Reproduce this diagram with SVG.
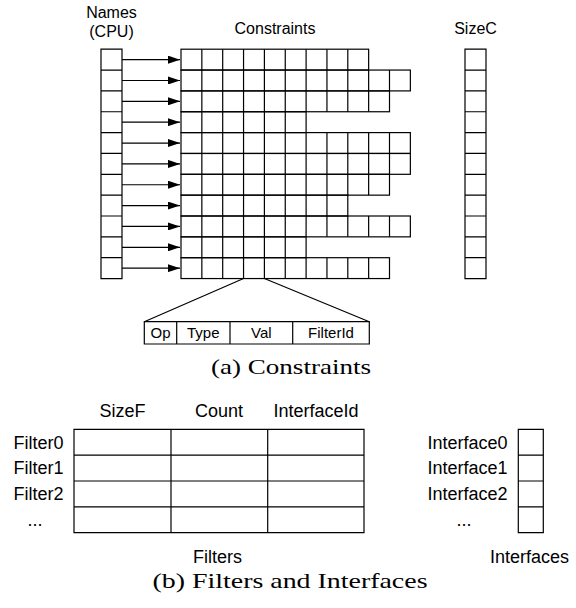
<svg xmlns="http://www.w3.org/2000/svg" xmlns:xlink="http://www.w3.org/1999/xlink" width="576" height="608" viewBox="0 0 576 608">
<style>
.s{fill:none;stroke:#000;stroke-width:1.2}
.t{font-family:"Liberation Sans",Arial,Helvetica,sans-serif;fill:#000}
.t16{font-size:16px}
.t15{font-size:15px}
.t18{font-size:18px}
.m{text-anchor:middle}
.e{text-anchor:end}
.cap{font-family:"Liberation Serif","Times New Roman",serif;font-size:21px;fill:#000;text-anchor:middle}
</style>
<defs>
<marker id="ah" markerUnits="userSpaceOnUse" markerWidth="12" markerHeight="8" refX="12" refY="4" orient="auto">
<path d="M0 0L12 4L0 8z" fill="#000"/>
</marker>
<path id="v5" d="M20.85 0v20.85m20.85-20.85v20.85m20.85-20.85v20.85m20.85-20.85v20.85m20.85-20.85v20.85"/>
<path id="v7" d="M20.85 0v20.85m20.85-20.85v20.85m20.85-20.85v20.85m20.85-20.85v20.85m20.85-20.85v20.85m20.85-20.85v20.85m20.85-20.85v20.85"/>
<path id="v8" d="M20.85 0v20.85m20.85-20.85v20.85m20.85-20.85v20.85m20.85-20.85v20.85m20.85-20.85v20.85m20.85-20.85v20.85m20.85-20.85v20.85m20.85-20.85v20.85"/>
<path id="v9" d="M20.85 0v20.85m20.85-20.85v20.85m20.85-20.85v20.85m20.85-20.85v20.85m20.85-20.85v20.85m20.85-20.85v20.85m20.85-20.85v20.85m20.85-20.85v20.85m20.85-20.85v20.85"/>
<path id="v10" d="M20.85 0v20.85m20.85-20.85v20.85m20.85-20.85v20.85m20.85-20.85v20.85m20.85-20.85v20.85m20.85-20.85v20.85m20.85-20.85v20.85m20.85-20.85v20.85m20.85-20.85v20.85m20.85-20.85v20.85"/>
<g id="r6"><rect width="125.1" height="20.85"/><use xlink:href="#v5"/></g>
<g id="r8"><rect width="166.8" height="20.85"/><use xlink:href="#v7"/></g>
<g id="r9"><rect width="187.65" height="20.85"/><use xlink:href="#v8"/></g>
<g id="r10"><rect width="208.5" height="20.85"/><use xlink:href="#v9"/></g>
<g id="r11"><rect width="229.35" height="20.85"/><use xlink:href="#v10"/></g>
<path id="col" d="M0 0h21v229.35h-21zM0 20.85h21M0 41.7h21M0 62.55h21M0 83.4h21M0 104.25h21M0 125.1h21M0 145.95h21M0 166.8h21M0 187.65h21M0 208.5h21"/>
</defs>

<g id="names">
<use xlink:href="#col" class="s" x="101" y="49.2"/>
<text class="t t16 m" x="111.5" y="18">Names</text>
<text class="t t16 m" x="111.5" y="37">(CPU)</text>
</g>

<g id="constraints" class="s">
<use xlink:href="#r9" x="181" y="49.2"/>
<use xlink:href="#r11" x="181" y="70.05"/>
<use xlink:href="#r10" x="181" y="90.9"/>
<use xlink:href="#r6" x="181" y="111.75"/>
<use xlink:href="#r11" x="181" y="132.6"/>
<use xlink:href="#r11" x="181" y="153.45"/>
<use xlink:href="#r10" x="181" y="174.3"/>
<use xlink:href="#r8" x="181" y="195.15"/>
<use xlink:href="#r11" x="181" y="216"/>
<use xlink:href="#r6" x="181" y="236.85"/>
<use xlink:href="#r10" x="181" y="257.7"/>
</g>
<text class="t t16 m" x="275" y="34">Constraints</text>

<g id="sizec">
<use xlink:href="#col" class="s" x="465" y="49.2"/>
<text class="t t16 m" x="475.5" y="34">SizeC</text>
</g>

<g id="constraint-detail">
<path class="s" d="M144.3 321.7H369.3V344H144.3ZM176.7 321.7V344M230 321.7V344M292.7 321.7V344"/>
<text class="t t15 m" x="160.5" y="338">Op</text>
<text class="t t15 m" x="203.3" y="338">Type</text>
<text class="t t15 m" x="261.3" y="338">Val</text>
<text class="t t15 m" x="331" y="338">FilterId</text>
</g>

<g id="connectors" class="s">
<path d="M122 59.625H180" marker-end="url(#ah)"/>
<path d="M122 80.475H180" marker-end="url(#ah)"/>
<path d="M122 101.325H180" marker-end="url(#ah)"/>
<path d="M122 122.175H180" marker-end="url(#ah)"/>
<path d="M122 143.025H180" marker-end="url(#ah)"/>
<path d="M122 163.875H180" marker-end="url(#ah)"/>
<path d="M122 184.725H180" marker-end="url(#ah)"/>
<path d="M122 205.575H180" marker-end="url(#ah)"/>
<path d="M122 226.425H180" marker-end="url(#ah)"/>
<path d="M122 247.275H180" marker-end="url(#ah)"/>
<path d="M122 268.125H180" marker-end="url(#ah)"/>
<path d="M243.55 278.55L144.3 321.7M264.4 278.55L369.3 321.7"/>
</g>

<text class="cap" x="291" y="374" textLength="160" lengthAdjust="spacingAndGlyphs">(a) Constraints</text>

<g id="filters">
<path class="s" d="M74 429.3H364V532.7H74ZM74 455.15H364M74 481H364M74 506.85H364M171 429.3V532.7M267.7 429.3V532.7"/>
<text class="t t18 m" x="122.5" y="417">SizeF</text>
<text class="t t18 m" x="219" y="417">Count</text>
<text class="t t18 m" x="316" y="417">InterfaceId</text>
<text class="t t18 e" x="63.5" y="448.6">Filter0</text>
<text class="t t18 e" x="63.5" y="474.4">Filter1</text>
<text class="t t18 e" x="63.5" y="500.3">Filter2</text>
<text class="t t18 m" x="35" y="526">...</text>
<text class="t t18 m" x="217.5" y="563">Filters</text>
</g>

<g id="interfaces">
<path class="s" d="M518.3 429.3H543.3V532.7H518.3ZM518.3 455.15H543.3M518.3 481H543.3M518.3 506.85H543.3"/>
<text class="t t18 e" x="507.5" y="448.6">Interface0</text>
<text class="t t18 e" x="507.5" y="474.4">Interface1</text>
<text class="t t18 e" x="507.5" y="500.3">Interface2</text>
<text class="t t18 m" x="464" y="526">...</text>
<text class="t t18 m" x="529.5" y="563">Interfaces</text>
</g>

<text class="cap" x="290" y="588" textLength="275" lengthAdjust="spacingAndGlyphs">(b) Filters and Interfaces</text>
</svg>
